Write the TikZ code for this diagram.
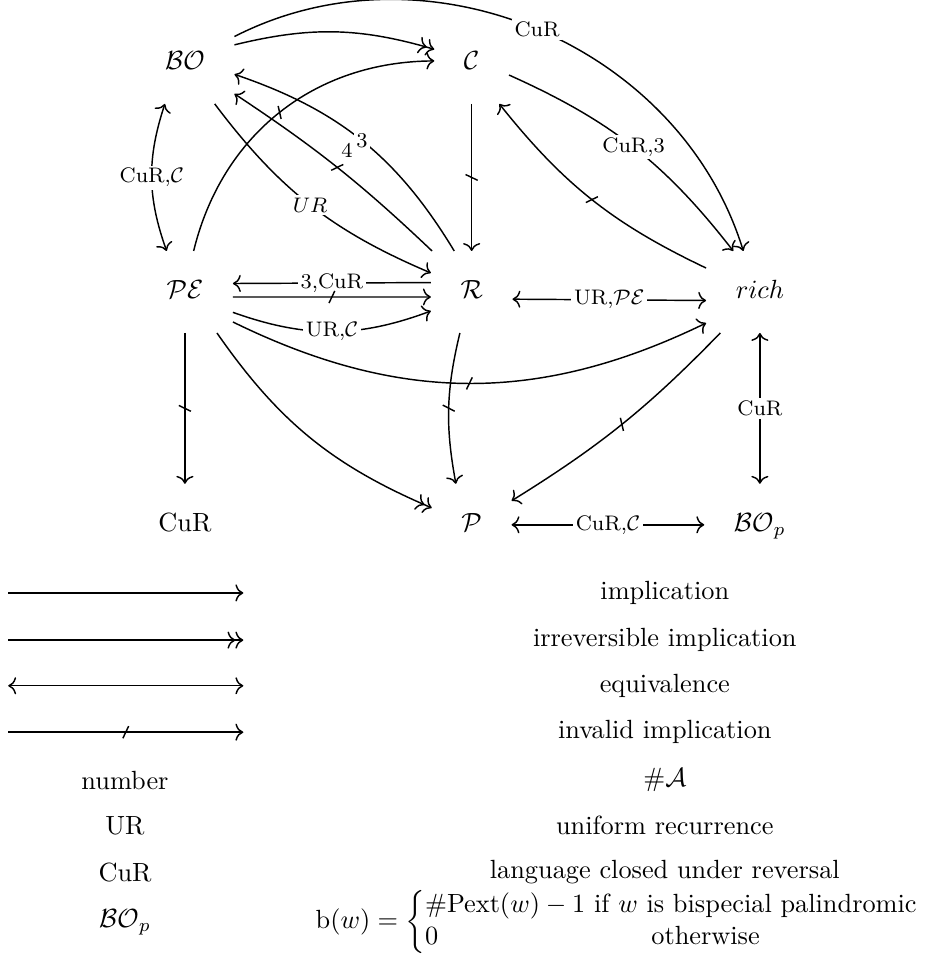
\documentclass[tikz,border=0pt]{standalone}
\usepackage{amsmath}
\usetikzlibrary{arrows.meta,decorations.markings}

\begin{document}
\begin{tikzpicture}[
  line width=0.55pt,
  >={Computer Modern Rightarrow[length=3pt,width=6.5pt]},
  obj/.style={inner sep=11pt,text height=1.6ex,text depth=0.4ex},
  lbl/.style={font=\footnotesize,fill=white,inner sep=1pt},
  inv/.style={->,postaction={decorate,decoration={markings,
      mark=at position 0.5 with {\draw[-] (-1.1pt,-2.3pt) -- (1.1pt,2.3pt);}}}}
]
\useasboundingbox (0,0) rectangle (12.435,-12.743);
% the eight classes
\node[obj] (BO) at (2.47,-0.84) {$\mathcal{BO}$};
\node[obj] (C) at (6.30,-0.84) {$\mathcal{C}$};
\node[obj] (PE) at (2.47,-3.90) {$\mathcal{PE}$};
\node[obj] (R) at (6.30,-3.90) {$\mathcal{R}$};
\node[obj] (rich) at (10.15,-3.90) {$rich$};
\node[obj] (CuR) at (2.47,-7.01) {CuR};
\node[obj] (P) at (6.30,-7.01) {$\mathcal{P}$};
\node[obj] (BOp) at (10.15,-7.01) {$\mathcal{BO}_p$};
% implications
\draw[->>] (BO.20) to[bend left=15] (C.160);
\draw[->] (BO.28) to[bend left=50] node[lbl,pos=0.5] {CuR} (rich.112);
\draw[inv] (PE.78) to[bend left=38] (C.177);
\draw[->] (R.113) to[bend right=20] node[lbl] {3} (BO.-13);
\draw[inv] (R.134) to[bend right=5] node[pos=0.5,shift={(0.13,0.23)},font=\footnotesize] {4} (BO.-32);
\draw[->] (BO.-54) to[bend right=15] node[lbl] {$UR$} (R.155);
\draw[inv] (C) -- (R);
\draw[->] (C.-18) to[bend left=14] node[lbl] {CuR,3} (rich.123);
\draw[inv] (rich.156) to[bend left=13] (C.-56);
\draw[<->] (BO.-116) to[bend right=19] node[lbl] {CuR,$\mathcal{C}$} (PE.114);
\draw[->] (R.167) -- node[lbl] {3,CuR} (PE.10);
\draw[inv] (PE.-6) -- (R.187);
\draw[->] (PE.-23) to[bend right=20] node[lbl] {UR,$\mathcal{C}$} (R.205);
\draw[inv] (PE.-32) to[bend right=26] (rich.210);
\draw[inv] (R.-106) to[bend right=12] (P.111);
\draw[->>] (PE.-52) to[bend right=16] (P.157);
\draw[inv] (PE) -- (CuR);
\draw[inv] (rich.226) to[bend left=7] (P.31);
\draw[<->] (R.-10) -- node[lbl] {UR,$\mathcal{PE}$} (rich.189);
\draw[<->] (rich) -- node[lbl] {CuR} (BOp);
\draw[<->] (P) -- node[lbl] {CuR,$\mathcal{C}$} (BOp);
% legend
\coordinate (a1) at (0.11,-7.92); \coordinate (b1) at (3.25,-7.92);
\coordinate (a2) at (0.11,-8.55); \coordinate (b2) at (3.25,-8.55);
\coordinate (a3) at (0.11,-9.16); \coordinate (b3) at (3.25,-9.16);
\coordinate (a4) at (0.11,-9.78); \coordinate (b4) at (3.25,-9.78);
\draw[->] (a1) -- (b1);
\draw[->>] (a2) -- (b2);
\draw[<->] (a3) -- (b3);
\draw[inv] (a4) -- (b4);
\node (t1) at (8.88,-7.92) {implication};
\node (t2) at (8.88,-8.55) {irreversible implication};
\node (t3) at (8.88,-9.16) {equivalence};
\node (t4) at (8.88,-9.78) {invalid implication};
\node (k5) at (1.67,-10.42) {number};
\node (t5) at (8.88,-10.42) {$\#\mathcal{A}$};
\node (k6) at (1.67,-11.03) {UR};
\node (t6) at (8.88,-11.03) {uniform recurrence};
\node (k7) at (1.67,-11.65) {CuR};
\node (t7) at (8.88,-11.65) {language closed under reversal};
\node (k8) at (1.67,-12.32) {$\mathcal{BO}_p$};
\node[anchor=west] (t8) at (4.09,-12.32) {$\mathrm{b}(w)=\left\{\begin{array}{@{}l@{}}
  \#\mathrm{Pext}(w)-1\text{ if }w\text{ is bispecial palindromic}\\
  \makebox[86pt][l]{$0$}\text{otherwise}
  \end{array}\right.$};
\end{tikzpicture}
\end{document}
